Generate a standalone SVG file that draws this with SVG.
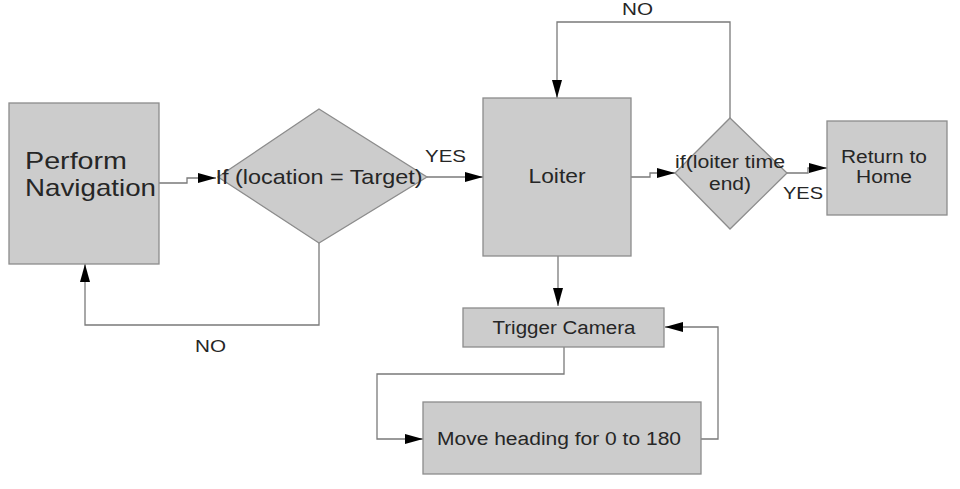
<svg xmlns="http://www.w3.org/2000/svg" width="960" height="489" viewBox="0 0 960 489">
<defs>
<style>
.node{fill:#cccccc;stroke:#8c8c8c;stroke-width:1.3}
.t{font-family:"Liberation Sans",Arial,sans-serif;fill:#262626;text-anchor:middle}
.lbl{font-family:"Liberation Sans",Arial,sans-serif;fill:#262626;font-size:17px}
.c{fill:none;stroke:#7a7a7a;stroke-width:1.3}
</style>
<marker id="ah" markerUnits="userSpaceOnUse" markerWidth="18" markerHeight="10" refX="18" refY="5" orient="auto">
<path d="M0,0 L18,5 L0,10 Z" fill="#000"/>
</marker>
</defs>
<rect width="960" height="489" fill="#ffffff"/>
<g id="connectors">
<path class="c" d="M159,183 H187 V178 H216" marker-end="url(#ah)"/>
<path class="c" d="M427,177 H483" marker-end="url(#ah)"/>
<path class="c" d="M319,243 V325 H85 V264" marker-end="url(#ah)"/>
<path class="c" d="M631,177 H650 V173 H675" marker-end="url(#ah)"/>
<path class="c" d="M730,118 V22 H557 V98" marker-end="url(#ah)"/>
<path class="c" d="M787,173 H808 V168 H827" marker-end="url(#ah)"/>
<path class="c" d="M558,256 V306" marker-end="url(#ah)"/>
<path class="c" d="M564,347 V374 H377 V439 H423" marker-end="url(#ah)"/>
<path class="c" d="M701,439 H718 V327 H665" marker-end="url(#ah)"/>
</g>
<g id="perform-navigation">
<rect class="node" x="9" y="103" width="150" height="161"/>
<text class="t" style="text-anchor:start" x="25" y="169" font-size="24" textLength="102" lengthAdjust="spacingAndGlyphs">Perform</text>
<text class="t" style="text-anchor:start" x="25" y="196" font-size="24" textLength="131" lengthAdjust="spacingAndGlyphs">Navigation</text>
</g>
<g id="if-location">
<polygon class="node" points="319,109 427,177 319,243 218,177"/>
<text class="t" x="319" y="184" font-size="21" textLength="207" lengthAdjust="spacingAndGlyphs">If (location = Target)</text>
</g>
<g id="loiter">
<rect class="node" x="483" y="98" width="148" height="158"/>
<text class="t" x="557" y="183" font-size="21" textLength="57" lengthAdjust="spacingAndGlyphs">Loiter</text>
</g>
<g id="if-loiter">
<polygon class="node" points="730,118 787,173 730,229 675,173"/>
<text class="t" x="730" y="168" font-size="18" textLength="110" lengthAdjust="spacingAndGlyphs">if(loiter time</text>
<text class="t" x="730" y="190" font-size="18" textLength="42" lengthAdjust="spacingAndGlyphs">end)</text>
</g>
<g id="return-home">
<rect class="node" x="827" y="121" width="120" height="94"/>
<text class="t" x="884" y="163" font-size="18" textLength="86" lengthAdjust="spacingAndGlyphs">Return to</text>
<text class="t" x="884" y="183" font-size="18" textLength="56" lengthAdjust="spacingAndGlyphs">Home</text>
</g>
<g id="trigger-camera">
<rect class="node" x="463" y="308" width="201" height="39"/>
<text class="t" x="564" y="334" font-size="18" textLength="143" lengthAdjust="spacingAndGlyphs">Trigger Camera</text>
</g>
<g id="move-heading">
<rect class="node" x="423" y="402" width="278" height="72"/>
<text class="t" x="559" y="445" font-size="18" textLength="244" lengthAdjust="spacingAndGlyphs">Move heading for 0 to 180</text>
</g>
<g id="labels">
<text class="lbl" x="425" y="162" textLength="41" lengthAdjust="spacingAndGlyphs">YES</text>
<text class="lbl" x="195" y="352" textLength="31" lengthAdjust="spacingAndGlyphs">NO</text>
<text class="lbl" x="622" y="15" textLength="31" lengthAdjust="spacingAndGlyphs">NO</text>
<text class="lbl" x="783" y="199" textLength="40" lengthAdjust="spacingAndGlyphs">YES</text>
</g>
</svg>
